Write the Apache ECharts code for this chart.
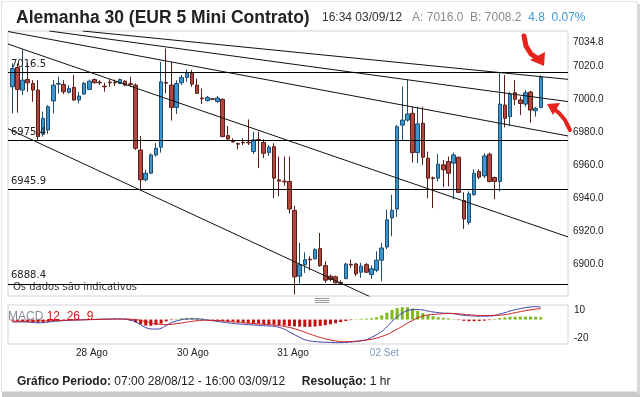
<!DOCTYPE html>
<html>
<head>
<meta charset="utf-8">
<title>Alemanha 30</title>
<script src="https://cdn.jsdelivr.net/npm/echarts/dist/echarts.min.js"></script>
<style>
  html, body { margin: 0; padding: 0; background: #fff; }
  #chart { width: 640px; height: 397px; }
</style>
</head>
<body>
<div id="chart"></div>
<script>
// hourly candles 07:00 28/08/12 - 16:00 03/09/12, [open, close, low, high]
const candles = [
  [7007.8, 7018.9, 6991.7, 7021.9], [7019.5, 7006.2, 6992.1, 7021.9], [7005.8, 7011.8, 7002.8, 7030.4],
  [7012.2, 7010.2, 7004.8, 7022.3], [7009.8, 7005.8, 6998.7, 7011.8], [7005.8, 6977.6, 6975.6, 7011.8],
  [6979.2, 6988.7, 6977.6, 6992.7], [6981.6, 6995.7, 6979.2, 6996.7], [6999.2, 7008.8, 6991.7, 7011.8],
  [7009.4, 7009.8, 7003.8, 7013.9], [7009.2, 7004.8, 7003.4, 7011.8], [7004.4, 7006.8, 7003.8, 7008.8],
  [7007.4, 6999.8, 6999.2, 7014.9], [6999.8, 7002.2, 6997.7, 7004.8], [7003.4, 7009.8, 7002.8, 7010.8],
  [7006.2, 7011.2, 7005.8, 7012.2], [7012.2, 7010.2, 7009.8, 7012.8], [7010.6, 7010.2, 7008.8, 7011.8],
  [7008.2, 7007.8, 7004.8, 7010.2], [7010.6, 7010.2, 7007.8, 7012.2], [7010.6, 7010.2, 7008.2, 7012.2],
  [7009.8, 7012.2, 7009.4, 7012.8], [7011.2, 7008.8, 7008.2, 7011.8], [7009.6, 7009.2, 7007.8, 7013.9],
  [7008.8, 6970.5, 6969.5, 7009.8], [6969.5, 6951.4, 6945.4, 6978.0], [6951.4, 6955.4, 6950.4, 6957.5],
  [6955.4, 6966.5, 6955.1, 6967.5], [6966.5, 6970.5, 6965.5, 6973.6], [6971.2, 7010.8, 6967.9, 7022.9],
  [7010.4, 7010.0, 7003.8, 7031.0], [7008.8, 6995.3, 6987.3, 7022.9], [6995.3, 7009.8, 6991.3, 7011.8],
  [7010.2, 7013.4, 7008.8, 7014.9], [7013.4, 7016.3, 7010.8, 7018.3], [7016.3, 7009.4, 7007.8, 7017.9],
  [7008.8, 7003.8, 7003.4, 7012.8], [7001.0, 7000.5, 6997.3, 7006.8], [6999.4, 7001.4, 6998.9, 7002.2],
  [7000.5, 7000.2, 6999.8, 7000.8], [6998.9, 7001.0, 6998.1, 7002.2], [7000.2, 6977.6, 6977.2, 7000.8],
  [6978.2, 6976.2, 6975.2, 6984.0], [6974.8, 6974.4, 6974.0, 6976.6], [6973.4, 6973.0, 6969.9, 6974.0],
  [6974.2, 6973.8, 6972.5, 6976.6], [6974.2, 6973.8, 6972.5, 6988.0], [6968.5, 6975.6, 6967.1, 6980.6],
  [6975.8, 6975.4, 6958.5, 6980.6], [6974.0, 6967.5, 6964.5, 6976.0], [6967.9, 6971.2, 6965.9, 6972.5],
  [6971.5, 6952.4, 6940.3, 6973.6], [6951.4, 6950.6, 6941.4, 6965.5], [6950.6, 6950.2, 6947.8, 6965.5],
  [6950.4, 6933.7, 6930.9, 6965.5], [6932.9, 6892.6, 6881.9, 6935.7], [6893.0, 6900.0, 6888.6, 6913.2],
  [6900.0, 6903.0, 6895.0, 6907.5], [6903.3, 6902.9, 6896.6, 6905.1], [6903.5, 6909.1, 6903.1, 6910.1],
  [6909.7, 6899.4, 6898.7, 6919.2], [6899.4, 6890.6, 6889.0, 6902.1], [6893.0, 6891.0, 6890.0, 6894.0],
  [6892.6, 6889.0, 6888.6, 6893.4], [6889.2, 6888.8, 6888.0, 6890.6], [6891.6, 6900.4, 6891.0, 6901.1],
  [6900.2, 6899.8, 6898.0, 6903.1], [6900.4, 6894.4, 6893.0, 6901.1], [6895.4, 6899.1, 6892.0, 6901.1],
  [6900.0, 6895.4, 6895.0, 6901.1], [6894.0, 6897.5, 6891.4, 6899.5], [6896.6, 6902.7, 6895.4, 6908.1],
  [6902.7, 6910.1, 6890.0, 6913.2], [6910.7, 6927.2, 6909.5, 6933.3], [6928.3, 6932.9, 6917.2, 6942.4],
  [6933.7, 6983.6, 6928.9, 6984.6], [6984.6, 6987.6, 6975.6, 7007.8], [6987.6, 6991.3, 6986.6, 7012.2],
  [6991.7, 6967.9, 6961.9, 6995.7], [6967.9, 6985.3, 6961.5, 6995.7], [6985.7, 6965.1, 6960.5, 6995.7],
  [6964.5, 6952.4, 6940.3, 6968.5], [6952.6, 6952.2, 6934.3, 6953.4], [6952.4, 6960.9, 6950.4, 6967.1],
  [6960.5, 6957.5, 6947.0, 6963.5], [6962.5, 6955.4, 6947.4, 6965.5], [6961.5, 6966.5, 6939.7, 6967.9],
  [6965.1, 6943.8, 6943.4, 6965.5], [6938.9, 6927.7, 6921.6, 6943.8], [6925.6, 6943.0, 6924.2, 6944.4],
  [6942.4, 6955.4, 6941.8, 6957.8], [6956.4, 6953.0, 6951.8, 6957.8], [6953.8, 6965.9, 6952.4, 6967.5],
  [6966.9, 6950.4, 6949.8, 6967.9], [6952.8, 6950.4, 6939.7, 6953.4], [6950.4, 6997.3, 6944.4, 7016.3],
  [6996.7, 6988.7, 6983.2, 7014.9], [6989.7, 7003.4, 6984.0, 7004.8], [7004.2, 7000.2, 6996.7, 7011.8],
  [6999.8, 6997.7, 6990.7, 7001.8], [6997.3, 7004.2, 6995.7, 7005.8], [7004.6, 6993.7, 6986.0, 7005.4],
  [6993.3, 6994.7, 6989.7, 6995.7], [6995.3, 7013.4, 6994.7, 7014.7]
]

// support / resistance levels and last price
const levels = [7016.5, 6975.4, 6945.9, 6888.4]
const lastPrice = 7014.0
const priceTicks = [6900, 6920, 6940, 6960, 6980, 7000, 7020, 7034.8]

// trend lines, [candle index, price] at each end
const trendLines = [
  [[13.7, 7041.6], [108.3, 7012.3]],
  [[7.2, 7041.6], [108.3, 6998.8]],
  [[-0.84, 7041.3], [108.3, 6978.0]],
  [[-0.84, 7033.7], [108.3, 6916.8]],
  [[-0.84, 6982.4], [69.7, 6880.6]]
]

// MACD 12 26 9
const macdLine = [
  -2.6, -2.6, -2.6, -2.8, -3.2, -3.6, -3.4, -2.8, -2.0, -1.6, -1.2, -0.8, -0.6, -0.4, -0.2, 0, 0.2, 0.4, 0.5, 0.6,
  0.7, 0.7, 0.3, -0.5, -2.5, -5.6, -8.8, -10.2, -10.4, -9.5, -6.5, -3.5, -1.5, -0.2, 0.5, 0.7, 0.6, 0.3, -0.5, -1.2,
  -2.0, -2.8, -3.6, -4.3, -4.8, -5.2, -5.6, -5.9, -6.3, -6.7, -7.0, -7.4, -8.5, -10.5, -13.5, -16.5, -19.5, -22.0, -23.3, -24.0,
  -24.5, -24.8, -25.0, -25.2, -25.2, -25.0, -24.6, -24.0, -23.2, -22.2, -19.5, -16.5, -13.0, -8.0, -2.0, 3.0, 7.0, 9.8, 10.8, 11.0,
  10.5, 9.3, 8.3, 7.6, 7.0, 6.8, 6.4, 5.5, 4.6, 4.2, 3.9, 3.7, 3.7, 3.9, 4.4, 6.0, 7.5, 9.3, 10.8, 11.9,
  13.0, 13.7, 14.1, 13.4
]
const signalLine = [
  -1.9, -1.9, -1.8, -1.7, -1.6, -1.5, -1.4, -1.3, -1.2, -1.1, -0.9, -0.7, -0.5, -0.4, -0.3, -0.1, 0, 0.1, 0.3, 0.4,
  0.5, 0.6, 0.6, 0.4, 0, -1.0, -2.3, -3.6, -4.6, -5.3, -5.5, -5.2, -4.5, -3.7, -2.8, -2.0, -1.3, -0.9, -0.8, -0.9,
  -1.1, -1.5, -2.0, -2.5, -3.0, -3.5, -4.0, -4.4, -4.8, -5.2, -5.6, -6.0, -6.6, -7.4, -8.6, -10.0, -11.8, -13.8, -15.8, -17.8,
  -19.5, -21.0, -22.3, -23.3, -24.0, -24.1, -24.0, -23.6, -23.0, -22.3, -21.5, -20.2, -18.4, -16.5, -13.5, -10.5, -7.4, -4.0, -1.0, 1.9,
  3.8, 5.0, 5.6, 6.0, 6.4, 6.7, 6.6, 6.2, 5.7, 5.2, 4.8, 4.5, 4.4, 4.4, 4.6, 4.8, 5.3, 6.3, 7.5, 8.6,
  9.7, 10.6, 11.4, 11.9
]
const histogram = [
  -1.2, -1.4, -1.6, -2.2, -2.8, -3.2, -3.0, -2.4, -1.6, -0.8, -0.5, -0.3, -0.2, -0.1, 0.1, 0.2, 0.2, 0.3, 0.3, 0.3,
  0.3, 0.2, -0.3, -1.2, -3.0, -5.0, -6.6, -6.8, -6.0, -4.4, -2.0, -0.6, 0.6, 1.4, 1.9, 1.9, 1.6, 1.0, 0.4, -0.4,
  -1.0, -1.6, -2.0, -2.4, -2.8, -3.2, -3.6, -4.0, -4.4, -4.8, -5.2, -5.6, -6.0, -6.6, -7.0, -7.4, -7.8, -8.0, -8.0, -7.6,
  -7.0, -6.2, -5.2, -4.0, -2.8, -1.6, -0.6, 0.4, 0.8, 1.0, 1.4, 2.4, 4.5, 7.5, 10.5, 12.5, 13.5, 13.5, 12.0, 9.5,
  7.0, 5.0, 3.6, 2.6, 1.8, 1.2, 0.4, -0.6, -1.4, -1.8, -1.8, -1.6, -1.2, -0.6, 0.6, 1.6, 2.4, 3.0, 3.2, 3.2,
  3.2, 3.2, 3.0, 2.6
]
const macdTicks = [10, -20]

// day labels under the MACD panel, at candle index
const dayTicks = [15.5, 35.2, 54.7, 72.5]
const dayLabels = ['28 Ago', '30 Ago', '31 Ago', '02 Set']

const upColor = '#3b96d0'
const upBorder = '#1d4d70'
const downColor = '#b4473d'
const downBorder = '#5a1e18'
const xMin = -0.84
const xMax = 108.3

var myChart = echarts.init(document.getElementById('chart'))

var series = [
  {
    name: 'DAX',
    type: 'candlestick',
    xAxisIndex: 0,
    yAxisIndex: 0,
    barWidth: 4,
    encode: { x: 0, y: [1, 2, 3, 4] },
    data: candles.map((c, i) => [i, c[0], c[1], c[2], c[3]]),
    itemStyle: {
      color: upColor,
      color0: downColor,
      borderColor: upBorder,
      borderColor0: downBorder,
      borderWidth: 1,
    },
    markLine: {
      silent: true,
      symbol: ['none', 'none'],
      lineStyle: { color: '#000', width: 1, type: 'solid' },
      label: {
        position: 'insideStartTop',
        distance: [3, 3],
        color: '#222',
        fontSize: 10,
        fontFamily: 'DejaVu Sans',
      },
      data: levels
        .map((v) => ({ yAxis: v, label: { formatter: v.toFixed(1) } }))
        .concat([
          {
            yAxis: lastPrice,
            lineStyle: { opacity: 0 },
            label: {
              position: 'end',
              distance: 1,
              formatter: lastPrice.toFixed(1),
              backgroundColor: '#dcdcdc',
              borderColor: '#444',
              borderWidth: 1,
              padding: [4, 26, 3, 4],
              color: '#111',
              fontSize: 10.5,
              fontFamily: 'Liberation Sans',
            },
          },
        ]),
    },
  },
]

trendLines.forEach((line) => {
  series.push({
    type: 'line',
    xAxisIndex: 0,
    yAxisIndex: 0,
    data: line,
    symbol: 'none',
    silent: true,
    lineStyle: { color: '#111', width: 1 },
  })
})

series.push(
  {
    name: 'hist',
    type: 'bar',
    xAxisIndex: 1,
    yAxisIndex: 1,
    barWidth: 3,
    data: histogram.map((v, i) => ({
      value: [i, v],
      itemStyle: { color: v >= 0 ? '#7cba1e' : '#c40f0f' },
    })),
  },
  {
    name: 'MACD',
    type: 'line',
    xAxisIndex: 1,
    yAxisIndex: 1,
    smooth: true,
    symbol: 'none',
    data: macdLine.map((v, i) => [i, v]),
    lineStyle: { color: '#3a3aa8', width: 1 },
  },
  {
    name: 'Signal',
    type: 'line',
    xAxisIndex: 1,
    yAxisIndex: 1,
    smooth: true,
    symbol: 'none',
    data: signalLine.map((v, i) => [i, v]),
    lineStyle: { color: '#c81a1a', width: 1 },
  }
)

var option = {
  animation: false,
  backgroundColor: '#fff',
  grid: [
    { left: 8, top: 31, width: 560, height: 265, show: true, borderColor: '#d4d4d4', borderWidth: 1 },
    { left: 8, top: 305, width: 560, height: 39, show: true, borderColor: '#d4d4d4', borderWidth: 1 },
  ],
  xAxis: [
    {
      type: 'value',
      gridIndex: 0,
      min: xMin,
      max: xMax,
      axisLine: { show: false },
      axisTick: { show: false },
      axisLabel: { show: false },
      splitLine: { show: false },
    },
    {
      type: 'value',
      gridIndex: 1,
      min: xMin,
      max: xMax,
      axisLine: { show: false },
      axisTick: { show: false },
      splitLine: { show: false },
      axisLabel: {
        customValues: dayTicks,
        margin: 4,
        fontSize: 10,
        color: '#222',
        fontFamily: 'Liberation Sans',
        formatter: (v) => {
          var k = dayTicks.indexOf(v)
          return k === 3 ? '{blue|' + dayLabels[k] + '}' : dayLabels[k]
        },
        rich: { blue: { color: '#7d97c4', fontSize: 10, fontFamily: 'Liberation Sans' } },
      },
    },
  ],
  yAxis: [
    {
      type: 'value',
      gridIndex: 0,
      position: 'right',
      min: 6881,
      max: 7041.6,
      axisLine: { show: false },
      axisTick: { show: false },
      splitLine: { show: false },
      axisLabel: {
        customValues: priceTicks,
        formatter: (v) => v.toFixed(1),
        margin: 5,
        fontSize: 10,
        color: '#222',
        fontFamily: 'Liberation Sans',
      },
    },
    {
      type: 'value',
      gridIndex: 1,
      position: 'right',
      min: -26.7,
      max: 15.9,
      axisLine: { show: false },
      axisTick: { show: false },
      splitLine: { show: false },
      axisLabel: {
        customValues: macdTicks,
        margin: 6,
        fontSize: 10,
        color: '#222',
        fontFamily: 'Liberation Sans',
      },
    },
  ],
  series: series,
  graphic: [
    // outer frame and shadow
    { type: 'rect', shape: { x: 1.5, y: 1.5, width: 636, height: 390 }, style: { fill: 'none', stroke: '#e4e4e4' }, z: -1 },
    { type: 'rect', shape: { x: 2, y: 392, width: 638, height: 5 }, style: { fill: '#c9c9c9' }, z: -1 },
    { type: 'rect', shape: { x: 637, y: 4, width: 3, height: 390 }, style: { fill: '#d8d8d8' }, z: -1 },
    // header
    {
      type: 'text',
      left: 16,
      top: 9,
      style: { text: 'Alemanha 30 (EUR 5 Mini Contrato)', font: 'bold 17.5px "Liberation Sans"', fill: '#222' },
    },
    {
      type: 'text',
      left: 322,
      top: 12,
      style: {
        text: '16:34 03/09/12   {g|A: 7016.0  B: 7008.2}  {b|4.8  0.07%}',
        font: '12px "Liberation Sans"',
        fill: '#333',
        rich: {
          g: { fill: '#8a8a8a', font: '12px "Liberation Sans"' },
          b: { fill: '#3a9ad6', font: '12px "Liberation Sans"' },
        },
      },
    },
    // note inside the price panel
    {
      type: 'text',
      left: 13,
      top: 282,
      style: { text: 'Os dados são indicativos', font: '10px "DejaVu Sans"', fill: '#333' },
    },
    // panel handle
    { type: 'line', shape: { x1: 315, y1: 298.5, x2: 329, y2: 298.5 }, style: { stroke: '#999' } },
    { type: 'line', shape: { x1: 315, y1: 300.5, x2: 329, y2: 300.5 }, style: { stroke: '#999' } },
    { type: 'line', shape: { x1: 315, y1: 302.5, x2: 329, y2: 302.5 }, style: { stroke: '#999' } },
    // MACD caption
    {
      type: 'text',
      left: 8,
      top: 311,
      z: 10,
      style: {
        text: 'MACD {r|12  26  9}',
        font: '12px "Liberation Sans"',
        fill: '#8a8a9a',
        rich: { r: { fill: '#c81a1a', font: '12px "Liberation Sans"' } },
      },
    },
    // footer
    {
      type: 'text',
      left: 17,
      top: 376,
      style: {
        text: '{b|Gráfico Periodo:} 07:00 28/08/12 - 16:00 03/09/12     {b|Resolução:} 1 hr',
        font: '12px "Liberation Sans"',
        fill: '#222',
        rich: { b: { font: 'bold 12px "Liberation Sans"', fill: '#222' } },
      },
    },
    // red arrows drawn on the picture
    {
      type: 'polyline',
      z: 20,
      shape: { points: [[524, 36], [526, 46], [531, 54], [537, 58]] },
      style: { stroke: '#e5231b', lineWidth: 5, fill: 'none', lineCap: 'round' },
    },
    {
      type: 'polygon',
      z: 20,
      shape: { points: [[530, 60], [545, 52], [544, 66]] },
      style: { fill: '#e5231b' },
    },
    {
      type: 'polyline',
      z: 20,
      shape: { points: [[570, 130], [565, 120], [559, 113], [554, 109]] },
      style: { stroke: '#e5231b', lineWidth: 4, fill: 'none', lineCap: 'round' },
    },
    {
      type: 'polygon',
      z: 20,
      shape: { points: [[547, 104], [560, 103], [553, 115]] },
      style: { fill: '#e5231b' },
    },
  ],
}

myChart.setOption(option)
</script>
</body>
</html>
